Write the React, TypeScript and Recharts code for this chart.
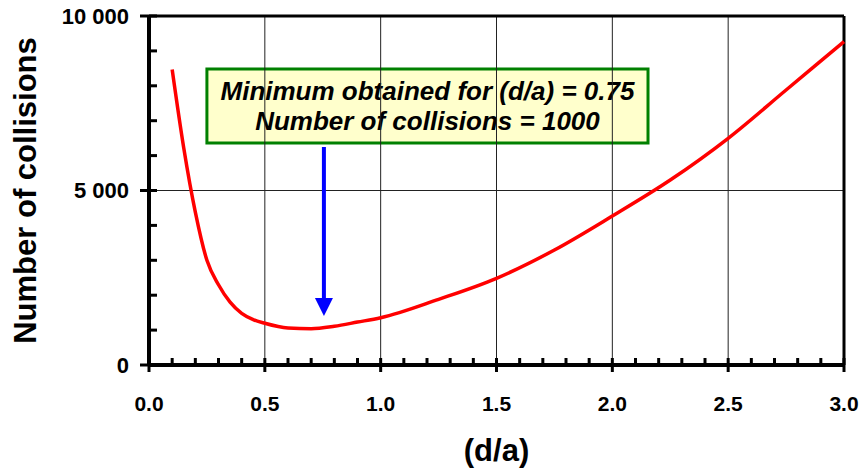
import React from 'react';
import {
  LineChart,
  Line,
  XAxis,
  YAxis,
  ReferenceLine,
  ReferenceArea,
  ReferenceDot,
} from 'recharts';

// d/a ratio vs number of collisions
const ratios = [0.1, 0.15, 0.2, 0.25, 0.3, 0.35, 0.4, 0.45, 0.5, 0.6, 0.7, 0.8, 0.9, 1.0, 1.25, 1.5, 1.75, 2.0, 2.25, 2.5, 2.75, 3.0];
const collisions = [8470, 6220, 4380, 3000, 2300, 1800, 1480, 1300, 1195, 1060, 1040, 1110, 1230, 1355, 1882, 2484, 3295, 4269, 5300, 6496, 7880, 9264];

const xTicks = [
  0, 0.1, 0.2, 0.3, 0.4, 0.5, 0.6, 0.7, 0.8, 0.9, 1.0, 1.1, 1.2, 1.3, 1.4, 1.5,
  1.6, 1.7, 1.8, 1.9, 2.0, 2.1, 2.2, 2.3, 2.4, 2.5, 2.6, 2.7, 2.8, 2.9, 3.0,
];
const xMajor = [0, 0.5, 1.0, 1.5, 2.0, 2.5, 3.0];
const xGrid = [0.5, 1.0, 1.5, 2.0, 2.5];
const yTicks = [0, 1000, 2000, 3000, 4000, 5000, 6000, 7000, 8000, 9000, 10000];
const yMajor = [0, 5000, 10000];
const yLabels: Record<number, string> = { 0: '0', 5000: '5 000', 10000: '10 000' };

// annotation box + arrow
const boxX = [0.25, 2.154];
const boxY = [6360, 8480];
const noteLines = ['Minimum obtained for (d/a) = 0.75', 'Number of collisions = 1000'];
const arrowX = 0.755;
const arrowFrom = 6250;
const arrowTip = 1404;

const data = ratios.map((r, i) => ({ r, n: collisions[i] }));

const FONT = '"Liberation Sans", Arial, sans-serif';

const XTick = (props: any) => {
  const { x, y, payload } = props;
  const v = payload.value;
  const major = xMajor.some((m) => Math.abs(m - v) < 1e-6);
  return (
    <g>
      <line x1={x} x2={x} y1={y - 7} y2={major ? y + 7 : y} stroke="#000" strokeWidth={3} />
      {major && (
        <text x={x} y={y + 46} textAnchor="middle" fontFamily={FONT} fontWeight="bold" fontSize={21} fill="#000">
          {v.toFixed(1)}
        </text>
      )}
    </g>
  );
};

const YTick = (props: any) => {
  const { x, y, payload } = props;
  const v = payload.value;
  const major = yMajor.includes(v);
  return (
    <g>
      <line x1={major ? x - 9 : x} x2={x + 8} y1={y} y2={y} stroke="#000" strokeWidth={3} />
      {major && (
        <text x={x - 20} y={y} dy="0.36em" textAnchor="end" fontFamily={FONT} fontWeight="bold" fontSize={22} fill="#000">
          {yLabels[v]}
        </text>
      )}
    </g>
  );
};

const YTitle = ({ viewBox }: any) => {
  const cx = viewBox.x + 25;
  const cy = viewBox.y + viewBox.height / 2;
  return (
    <text x={cx} y={cy} dy="0.36em" textAnchor="middle" transform={`rotate(-90 ${cx} ${cy})`}
      fontFamily={FONT} fontWeight="bold" fontSize={31} fill="#000">
      Number of collisions
    </text>
  );
};

const XTitle = ({ viewBox }: any) => (
  <text x={viewBox.x + viewBox.width / 2} y={viewBox.y + 85} dy="0.36em" textAnchor="middle"
    fontFamily={FONT} fontWeight="bold" fontSize={31} fill="#000">
    (d/a)
  </text>
);

const NoteLabel = ({ viewBox }: any) => {
  const cx = viewBox.x + viewBox.width / 2;
  const cy = viewBox.y + viewBox.height / 2;
  return (
    <g>
      {noteLines.map((t, i) => (
        <text key={t} x={cx} y={cy + (i === 0 ? -15 : 15)} dy="0.36em" textAnchor="middle"
          fontFamily={FONT} fontWeight="bold" fontStyle="italic" fontSize={26} fill="#000">
          {t}
        </text>
      ))}
    </g>
  );
};

const ArrowHead = (props: any) => {
  const { cx, cy } = props;
  return <path d={`M${cx - 9},${cy - 18} L${cx + 9},${cy - 18} L${cx},${cy} Z`} fill="#0000FF" />;
};

export default function App() {
  return (
    <div style={{ position: 'absolute', left: 0, top: 0, width: 862, height: 470, background: '#fff' }}>
      <LineChart width={862} height={470} data={data} margin={{ top: 16, right: 18, bottom: 0, left: 0 }}>
        {xGrid.map((g) => (
          <ReferenceLine key={g} x={g} stroke="#222" strokeWidth={1} />
        ))}
        <ReferenceLine y={5000} stroke="#222" strokeWidth={1} />
        <ReferenceLine y={10000} stroke="#000" strokeWidth={3} />
        <ReferenceLine x={3} stroke="#000" strokeWidth={3} />
        <XAxis
          dataKey="r"
          type="number"
          domain={[0, 3]}
          ticks={xTicks}
          interval={0}
          height={105}
          tickSize={0}
          tickMargin={0}
          tickLine={false}
          tick={<XTick />}
          axisLine={{ stroke: '#000', strokeWidth: 4 }}
          label={<XTitle />}
        />
        <YAxis
          type="number"
          domain={[0, 10000]}
          ticks={yTicks}
          interval={0}
          width={149}
          tickSize={0}
          tickMargin={0}
          tickLine={false}
          tick={<YTick />}
          axisLine={{ stroke: '#000', strokeWidth: 4 }}
          label={<YTitle />}
        />
        <Line
          type="monotone"
          dataKey="n"
          stroke="#FF0000"
          strokeWidth={3.5}
          dot={false}
          isAnimationActive={false}
        />
        <ReferenceArea
          x1={boxX[0]}
          x2={boxX[1]}
          y1={boxY[0]}
          y2={boxY[1]}
          fill="#FFFFCC"
          fillOpacity={1}
          stroke="#008000"
          strokeWidth={3}
          label={<NoteLabel />}
        />
        <ReferenceLine
          segment={[{ x: arrowX, y: arrowFrom }, { x: arrowX, y: arrowTip + 500 }]}
          stroke="#0000FF"
          strokeWidth={4}
        />
        <ReferenceDot x={arrowX} y={arrowTip} shape={<ArrowHead />} />
      </LineChart>
    </div>
  );
}
